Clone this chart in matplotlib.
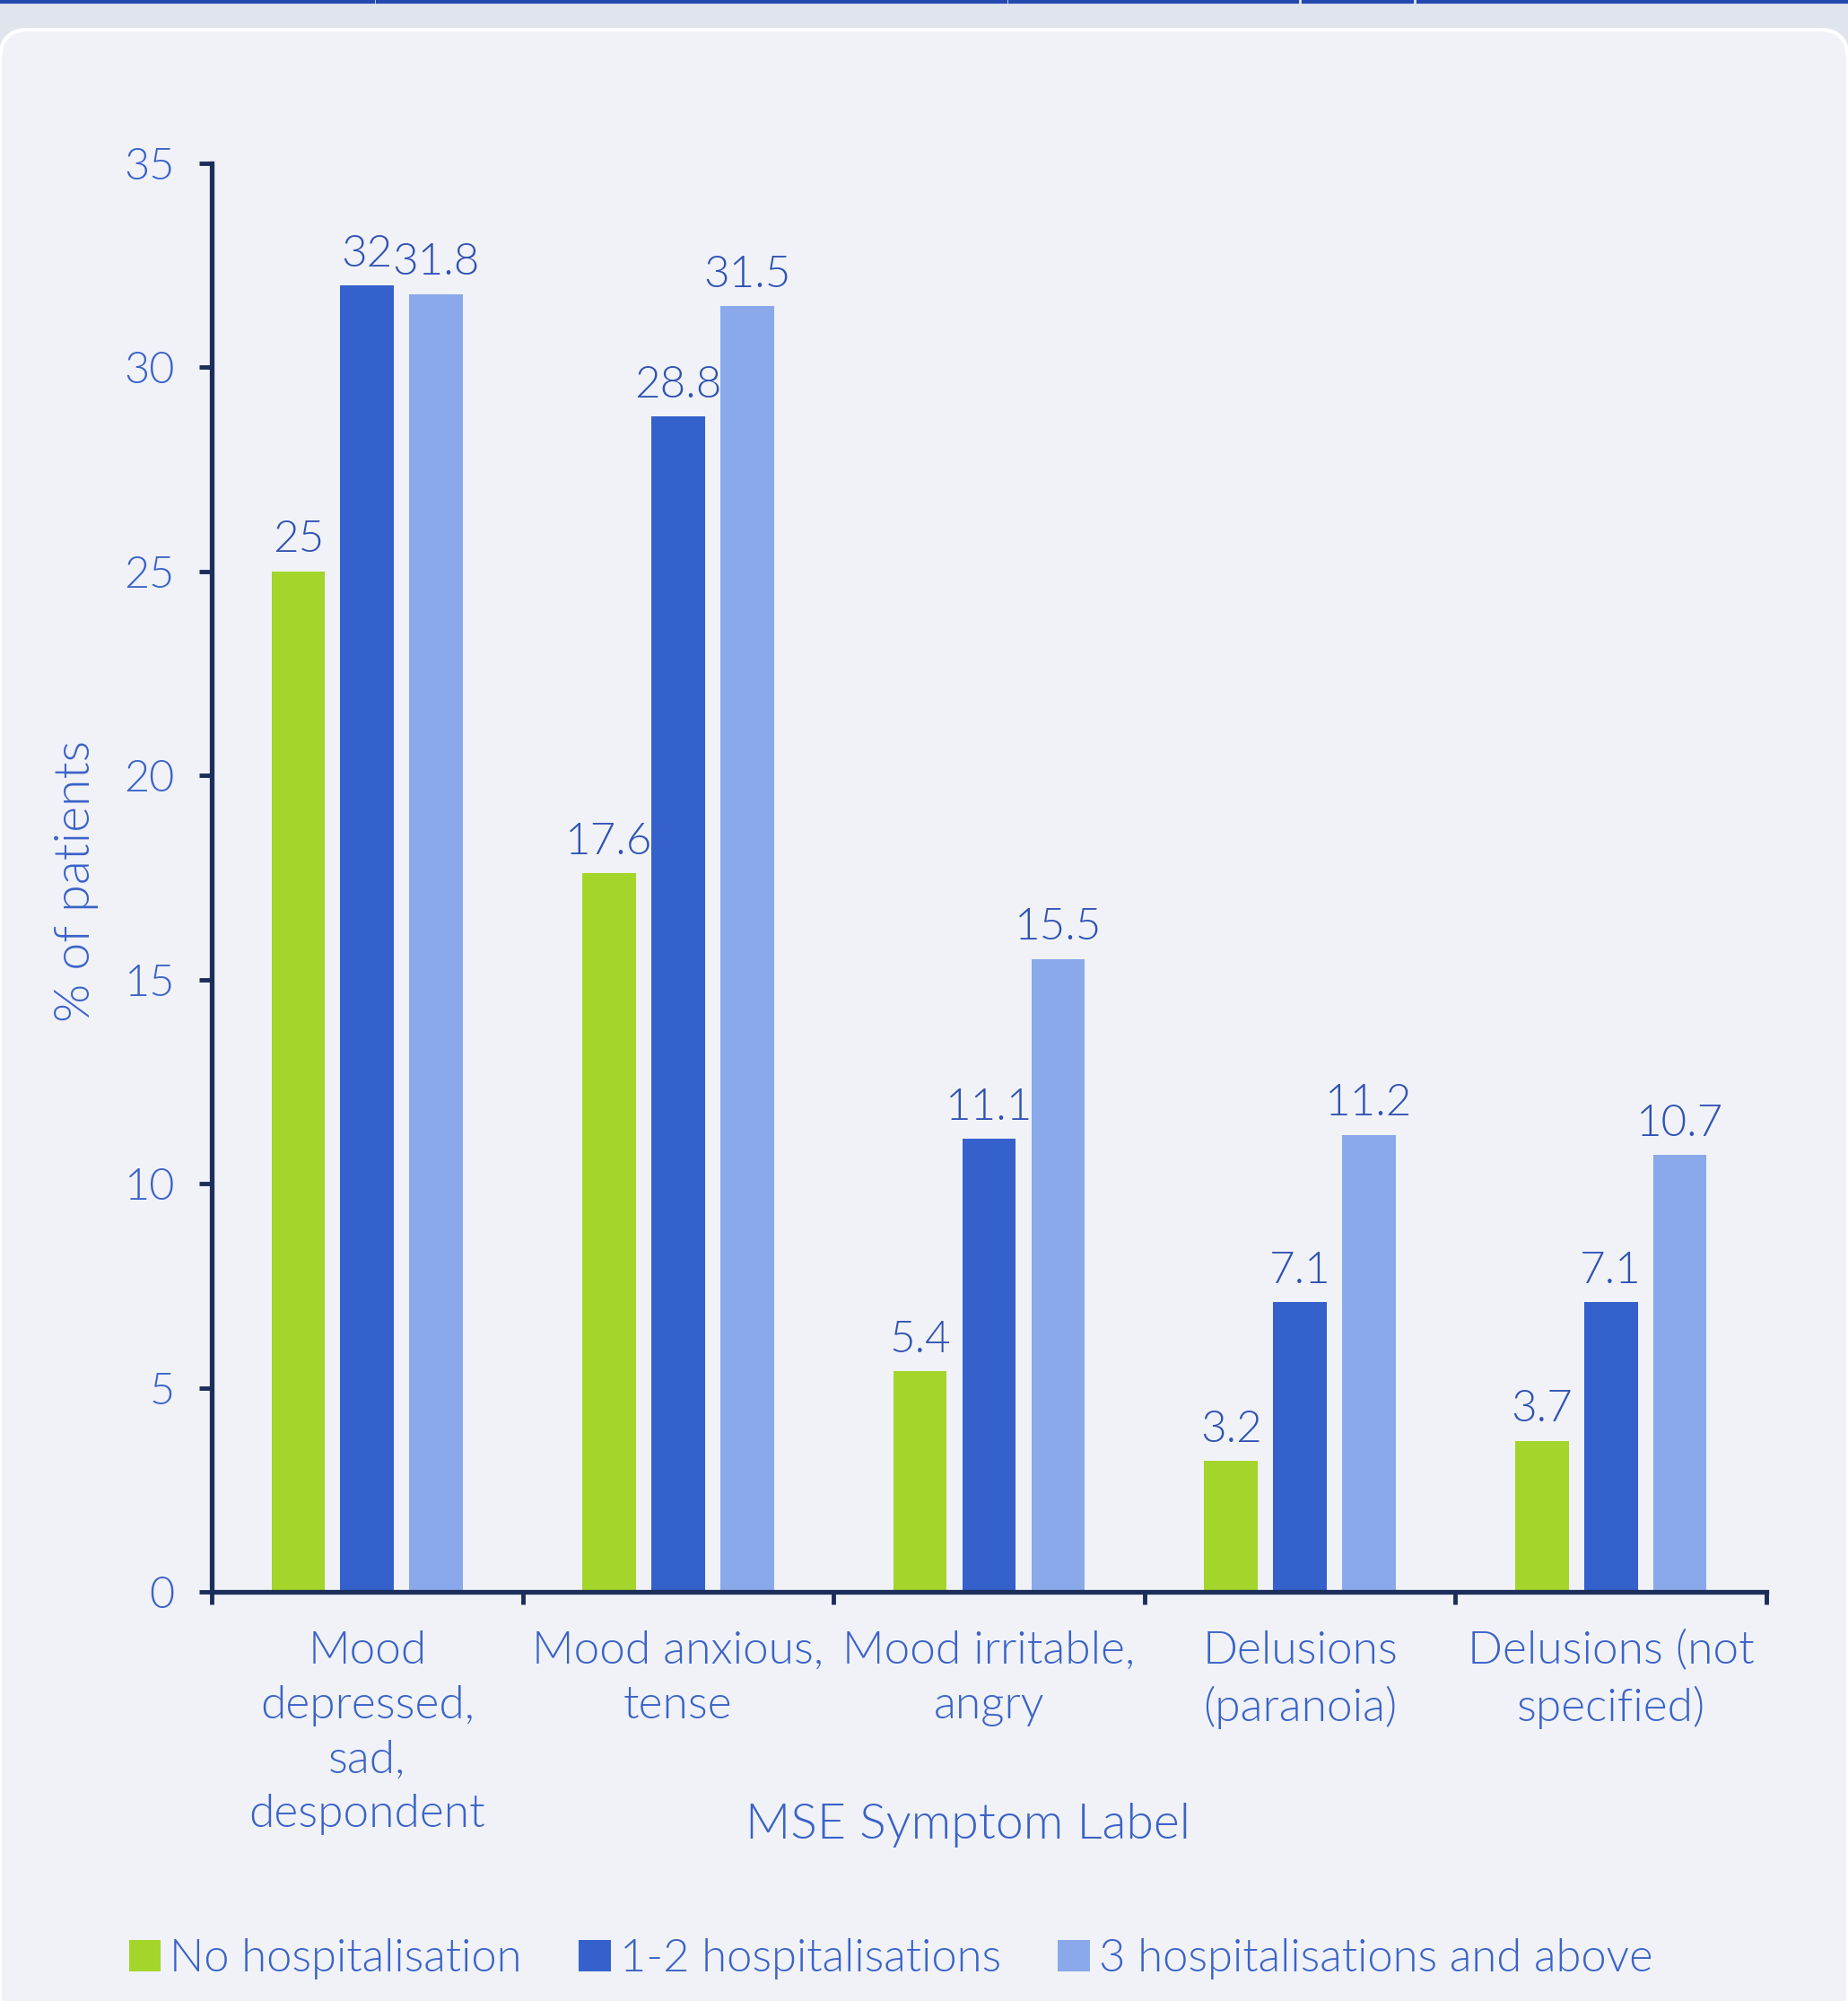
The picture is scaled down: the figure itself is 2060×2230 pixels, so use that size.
import numpy as np
import matplotlib.pyplot as plt
from matplotlib.patches import FancyBboxPatch, Patch
from matplotlib.lines import Line2D

# data
categories = ["Mood\ndepressed,\nsad,\ndespondent", "Mood anxious,\ntense",
              "Mood irritable,\nangry", "Delusions\n(paranoia)", "Delusions (not\nspecified)"]
series_names = ["No hospitalisation", "1-2 hospitalisations", "3 hospitalisations and above"]
no_hosp = [25, 17.6, 5.4, 3.2, 3.7]
hosp_1_2 = [32, 28.8, 11.1, 7.1, 7.1]
hosp_3_plus = [31.8, 31.5, 15.5, 11.2, 10.7]
y_ticks = [0, 5, 10, 15, 20, 25, 30, 35]

colors = ["#a3d52a", "#3461cc", "#8aa9ea"]
txt_col = "#3a62c8"
lab_col = "#2f52b3"
axis_col = "#1b2d5a"

plt.rcParams['font.family'] = ['Lato', 'DejaVu Sans']
plt.rcParams['font.weight'] = 300

fig = plt.figure(figsize=(20.6, 22.3), dpi=100)
fig.patch.set_facecolor("#dfe4ed")

# card background
card = FancyBboxPatch((0.0, -0.05), 1.0, 1.05 - 33 / 2230,
                      boxstyle="round,pad=0,rounding_size=0.015",
                      transform=fig.transFigure, facecolor="#f0f2f7",
                      edgecolor="white", linewidth=3, zorder=-10)
fig.add_artist(card)
# top strip lines
for x0, x1 in [(0, 416), (421, 1121), (1126, 1446), (1453, 1574), (1581, 2060)]:
    fig.add_artist(Line2D([x0 / 2060, x1 / 2060], [1 - 1.5 / 2230] * 2,
                          transform=fig.transFigure, color="#2448b0", lw=3))

ax = fig.add_axes([236 / 2060, 1 - 1774 / 2230, 1733 / 2060, 1592 / 2230])
ax.set_facecolor("none")
ax.set_zorder(5)

x = np.arange(len(categories))
step = 0.222
width = 0.172
for i, (vals, name) in enumerate(zip([no_hosp, hosp_1_2, hosp_3_plus], series_names)):
    bars = ax.bar(x + (i - 1) * step, vals, width, color=colors[i], label=name, zorder=2)
    for b, v in zip(bars, vals):
        ax.annotate(f"{v:g}", (b.get_x() + b.get_width() / 2, v),
                    xytext=(0, 9), textcoords="offset points",
                    ha="center", va="bottom", fontsize=35.5, color=lab_col)

ax.set_xlim(-0.5, len(categories) - 0.5)
ax.set_ylim(0, 35)
ax.set_yticks(y_ticks)
ax.tick_params(axis="y", labelsize=35, labelcolor=txt_col, color=axis_col,
               length=10, width=3.5, pad=20)

ax.set_xticks(np.arange(len(categories) + 1) - 0.5)
ax.set_xticklabels([])
ax.set_xticks(x, minor=True)
ax.set_xticklabels(categories, minor=True, fontsize=37, color=txt_col, linespacing=1.4)
ax.tick_params(axis="x", which="major", color=axis_col, length=10, width=3.5)
ax.tick_params(axis="x", which="minor", length=0, pad=31)

for s in ["top", "right"]:
    ax.spines[s].set_visible(False)
for s in ["left", "bottom"]:
    ax.spines[s].set_color(axis_col)
    ax.spines[s].set_linewidth(3.8)

fig.text(1079 / 2060, 1 - 2034 / 2230, "MSE Symptom Label", ha="center", va="center",
         fontsize=40, color=txt_col)
fig.text(85 / 2060, 1 - 982 / 2230, "% of patients", ha="center", va="center",
         rotation=90, fontsize=40, color=txt_col)

handles = [Patch(facecolor=c, edgecolor="none") for c in colors]
fig.legend(handles, series_names, loc="center left", bbox_to_anchor=(98 / 2060, 1 - 2183 / 2230),
           ncol=3, frameon=False, fontsize=36.5, labelcolor=txt_col,
           handlelength=0.7, handleheight=0.7, handletextpad=0.2, columnspacing=1.25)

fig.savefig("out.png", dpi=100, facecolor=fig.get_facecolor())
